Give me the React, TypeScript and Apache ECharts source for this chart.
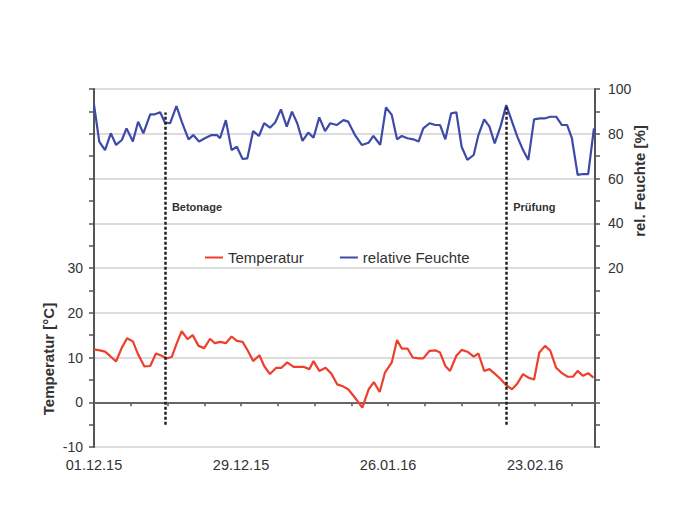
import React, { useEffect, useRef } from "react";
import * as echarts from "echarts";

// Days since 01.12.2015
const humDays = [0, 1, 2.1, 3.2, 4.2, 5.3, 6.2, 7.4, 8.4, 9.4, 10.7, 11.6, 12.6, 13.5, 14.5, 15.7, 16.7, 18, 18.9, 20, 21.1, 22.4, 23.4, 24, 25.1, 26.2, 27.2, 28.3, 29.2, 30.3, 31.4, 32.4, 33.5, 34.5, 35.6, 36.7, 37.7, 38.7, 39.7, 40.8, 41.8, 42.9, 44, 45, 46.2, 47.5, 48.4, 49.7, 51, 52.3, 53.2, 53.8, 54.5, 55.6, 56.7, 57.7, 58.6, 59.7, 60.8, 61.8, 62.7, 63.9, 65, 65.9, 66.9, 68, 69, 70, 71.1, 72.3, 73.2, 74.3, 75.3, 76.3, 77.4, 78.5, 79.6, 80.6, 81.7, 82.7, 83.8, 84.9, 85.9, 86.9, 88, 89.1, 90.1, 91, 92.1, 93.1, 94.1, 95.2];
const humValues = [93, 76.5, 72.7, 80.2, 75, 77.2, 82.4, 76.5, 85.4, 80.2, 88.7, 88.7, 89.6, 85, 84.7, 92.4, 85.4, 77.5, 79.4, 76.5, 78, 79.4, 79.4, 78, 86.1, 72.7, 74.2, 68.7, 69, 81.2, 79, 84.7, 82.7, 85, 90.9, 83.2, 89.9, 84.7, 76.8, 80.5, 78.2, 87.3, 81.2, 84.7, 83.9, 86.1, 85.4, 79.4, 75, 76, 79, 77.2, 75, 91.8, 88.4, 77.5, 79, 78, 77.5, 76.5, 82.4, 84.7, 83.9, 83.9, 77.5, 89.1, 89.6, 74.2, 68.3, 70.5, 79.4, 86.4, 83.2, 75.7, 83.2, 92.8, 85.4, 78.7, 72.7, 68.3, 86.4, 86.9, 86.9, 87.6, 87.6, 83.9, 83.9, 78, 61.6, 62, 62, 82.4];

const tempDays = [0, 1.1, 2.1, 3, 4.2, 5.3, 6.3, 7.4, 8.4, 9.6, 10.7, 11.8, 12.9, 13.8, 14.8, 15.7, 16.7, 17.8, 18.8, 19.9, 21, 22.1, 23, 24, 25.1, 26.2, 27.2, 28.3, 29.3, 30.3, 31.5, 32.4, 33.5, 34.7, 35.7, 36.8, 38, 39, 40, 41, 41.8, 42.9, 44.1, 45.2, 46.3, 47.5, 48.4, 49.7, 51.1, 52.3, 53.3, 54.4, 55.4, 56.7, 57.7, 58.6, 59.7, 60.7, 61.8, 62.7, 63.9, 65, 65.9, 66.9, 67.8, 69, 70, 71.1, 72.3, 73.2, 74.3, 75.3, 76.4, 77.5, 78.5, 79.6, 80.5, 81.7, 82.7, 83.8, 84.8, 85.9, 86.9, 88, 89.1, 90.2, 91.2, 92.1, 93.1, 94.1, 95.1];
const tempValues = [11.8, 11.6, 11.3, 10.4, 9.1, 12.2, 14.3, 13.6, 10.7, 8, 8.1, 10.9, 10.4, 9.8, 10.1, 13, 15.9, 14.1, 15, 12.6, 12.1, 14.2, 13.2, 13.5, 13.2, 14.7, 13.7, 13.5, 11.5, 9.2, 10.5, 8.1, 6.3, 7.7, 7.7, 8.9, 7.9, 7.9, 7.9, 7.4, 9.2, 7, 7.7, 6.4, 4, 3.5, 2.9, 1, -1.2, 2.9, 4.5, 2.3, 6.6, 8.9, 13.9, 12, 12, 10, 9.8, 9.8, 11.5, 11.6, 11.1, 8.1, 7, 10.4, 11.7, 11.3, 10.2, 10.9, 7, 7.4, 6.3, 5.1, 3.8, 2.9, 4, 6.3, 5.5, 5.1, 11.1, 12.6, 11.5, 7.7, 6.5, 5.7, 5.7, 7, 5.9, 6.5, 5.5];

const events = ["Betonage", "Prüfung"];
const eventDays = [13.5, 78.5];
const eventTops = [89.5, 93];

const tempTicks = [-10, 0, 10, 20, 30];
const humTicks = [20, 40, 60, 80, 100];

const FONT = "'Liberation Sans', Arial, sans-serif";

function fmtDate(v: number) {
  const d = new Date(2015, 11, 1 + Math.round(v));
  const dd = String(d.getDate()).padStart(2, "0");
  const mm = String(d.getMonth() + 1).padStart(2, "0");
  const yy = String(d.getFullYear()).slice(2);
  return `${dd}.${mm}.${yy}`;
}

export default function App() {
  const ref = useRef<HTMLDivElement>(null);
  useEffect(() => {
    if (!ref.current) return;
    const chart = echarts.init(ref.current, undefined, { renderer: "svg" });
    const tempData = tempDays.map((d, i) => [d, tempValues[i]]);
    const humData = humDays.map((d, i) => [d, humValues[i]]);
    chart.setOption({
      animation: false,
      backgroundColor: "#fff",
      textStyle: { fontFamily: FONT },
      grid: { left: 94, right: 78, top: 89, bottom: 84 },
      legend: {
        left: 205,
        top: 250,
        padding: 0,
        icon: "rect",
        itemWidth: 18,
        itemHeight: 2,
        itemGap: 36,
        textStyle: { fontSize: 15, color: "#333", fontFamily: FONT },
        data: ["Temperatur", "relative Feuchte"],
      },
      xAxis: {
        type: "value",
        min: 0,
        max: 95.4,
        interval: 7,
        splitLine: { show: false },
        axisLine: { show: true, lineStyle: { color: "#555", width: 2 } },
        axisTick: { show: true, length: 4, lineStyle: { color: "#555", width: 1.5 } },
        axisLabel: {
          showMaxLabel: false,
          margin: 10,
          fontSize: 14.5,
          color: "#333",
          fontFamily: FONT,
          formatter: (v: number) => (Math.round(v) % 28 === 0 ? fmtDate(v) : ""),
        },
      },
      yAxis: [
        {
          type: "value",
          min: -10,
          max: 70,
          interval: 10,
          position: "left",
          axisLine: { show: true, lineStyle: { color: "#555", width: 2 } },
          axisTick: { show: true, length: 5, lineStyle: { color: "#555", width: 1.5 } },
          minorTick: { show: true, splitNumber: 2, length: 5, lineStyle: { color: "#555", width: 1.5 } },
          splitLine: { show: true, lineStyle: { color: "#dcdcdc", width: 2 } },
          axisLabel: {
            margin: 11,
            fontSize: 14,
            color: "#333",
            fontFamily: FONT,
            formatter: (v: number) => (tempTicks.includes(v) ? String(v) : ""),
          },
        },
        {
          type: "value",
          min: -60,
          max: 100,
          interval: 20,
          position: "right",
          axisLine: { show: true, lineStyle: { color: "#555", width: 2 } },
          axisTick: { show: true, length: 5, lineStyle: { color: "#555", width: 1.5 } },
          minorTick: { show: true, splitNumber: 2, length: 5, lineStyle: { color: "#555", width: 1.5 } },
          splitLine: { show: false },
          axisLabel: {
            margin: 13,
            fontSize: 14,
            color: "#333",
            fontFamily: FONT,
            formatter: (v: number) => (humTicks.includes(v) ? String(v) : ""),
          },
        },
      ],
      series: [
        {
          name: "Temperatur",
          type: "line",
          yAxisIndex: 0,
          data: tempData,
          showSymbol: false,
          symbol: "none",
          color: "#ee3f2d",
          lineStyle: { color: "#ee3f2d", width: 2.2 },
          z: 3,
          markLine: {
            silent: true,
            symbol: "none",
            label: { show: false },
            lineStyle: { color: "#666", width: 2, type: "solid" },
            data: [{ yAxis: 0 }],
            z: 1,
          },
        },
        {
          name: "relative Feuchte",
          type: "line",
          yAxisIndex: 1,
          data: humData,
          showSymbol: false,
          symbol: "none",
          color: "#3d4aa8",
          lineStyle: { color: "#3d4aa8", width: 2.2 },
          z: 3,
          markLine: {
            silent: true,
            symbol: "none",
            label: { show: false },
            lineStyle: { color: "#222", width: 2.5, type: [3, 2] },
            data: eventDays.map((d, i) => [
              { coord: [d, -50] },
              { coord: [d, eventTops[i]] },
            ]),
          },
          markPoint: {
            silent: true,
            symbol: "circle",
            symbolSize: 0,
            label: {
              show: true,
              position: "right",
              distance: 7,
              fontSize: 11,
              fontWeight: "bold",
              color: "#333",
              fontFamily: FONT,
              formatter: (p: any) => p.name,
            },
            data: events.map((e, i) => ({ name: e, coord: [eventDays[i], 47.3] })),
          },
        },
      ],
      graphic: [
        {
          type: "text",
          x: 48,
          y: 359,
          rotation: Math.PI / 2,
          style: {
            text: "Temperatur [°C]",
            fontSize: 15,
            fontWeight: "bold",
            fontFamily: FONT,
            fill: "#333",
            align: "center",
            verticalAlign: "middle",
          },
        },
        {
          type: "text",
          x: 639,
          y: 181,
          rotation: Math.PI / 2,
          style: {
            text: "rel. Feuchte [%]",
            fontSize: 15,
            fontWeight: "bold",
            fontFamily: FONT,
            fill: "#333",
            align: "center",
            verticalAlign: "middle",
          },
        },
      ],
    });
    return () => chart.dispose();
  }, []);
  return (
    <div
      ref={ref}
      style={{ position: "absolute", left: 0, top: 0, width: 673, height: 531 }}
    />
  );
}
